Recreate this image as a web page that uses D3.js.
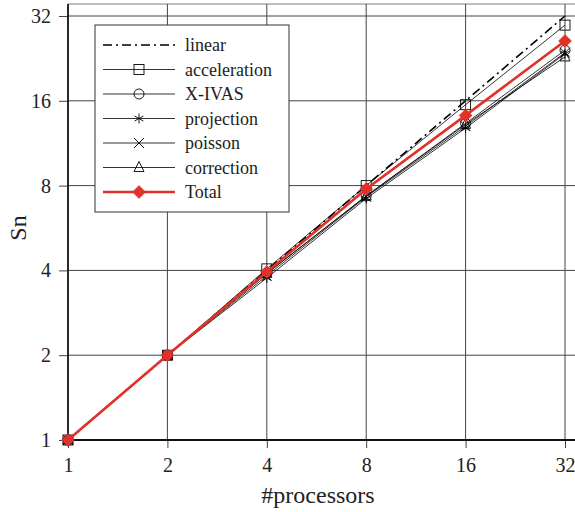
<!DOCTYPE html>
<html>
<head>
<meta charset="utf-8">
<script src="https://cdn.jsdelivr.net/npm/d3@7/dist/d3.min.js"></script>
<style>
  body { margin: 0; background: #fff; }
</style>
</head>
<body>
<svg id="chart" width="575" height="512"></svg>
<script>
(function () {
    const procs = [1, 2, 4, 8, 16, 32];
    const yTicks = [1, 2, 4, 8, 16, 32];

    const linear = [1, 2, 4, 8, 16, 32];
    const acceleration = [1, 2, 4.05, 8.0, 15.5, 29.7];
    const xivas = [1, 2, 3.9, 7.35, 13.3, 24.2];
    const projection = [1, 2, 3.76, 7.2, 12.8, 23.5];
    const poisson = [1, 2, 3.83, 7.3, 13.0, 23.7];
    const correction = [1, 2, 3.9, 7.35, 13.2, 22.9];
    const total = [1, 2, 3.95, 7.78, 14.2, 26.1];

    const FONT = "'Liberation Serif'";

    const series = [
        { name: "linear", values: linear, marker: null, color: "#000", width: 1.6, dash: "9,4,2,4" },
        { name: "acceleration", values: acceleration, marker: "square", color: "#000", width: 0.8 },
        { name: "X-IVAS", values: xivas, marker: "circle", color: "#000", width: 0.8 },
        { name: "projection", values: projection, marker: "star", color: "#000", width: 0.8 },
        { name: "poisson", values: poisson, marker: "cross", color: "#000", width: 0.8 },
        { name: "correction", values: correction, marker: "triangle", color: "#000", width: 0.8 },
        { name: "Total", values: total, marker: "diamond", color: "#e0312a", width: 2.6 }
    ];

    const svg = d3.select("#chart");
    const left = 68, right = 565, top = 16, bottom = 440;

    const x = d3.scaleLog().base(2).domain([1, 32]).range([left, right]);
    const y = d3.scaleLog().base(2).domain([1, 32]).range([bottom, top]);

    // frame (top edge sits a bit above the 32 grid line)
    svg.append("line")
        .attr("x1", left).attr("x2", 575).attr("y1", 4).attr("y2", 4)
        .attr("stroke", "#aaa").attr("stroke-width", 1.5);

    // grid
    const grid = svg.append("g");
    grid.selectAll(".gx").data(procs.slice(1)).enter().append("line")
        .attr("x1", d => x(d)).attr("x2", d => x(d))
        .attr("y1", 4).attr("y2", bottom)
        .attr("stroke", "#444").attr("stroke-width", 1);
    grid.selectAll(".gy").data(yTicks.slice(1)).enter().append("line")
        .attr("x1", left).attr("x2", 575)
        .attr("y1", d => y(d)).attr("y2", d => y(d))
        .attr("stroke", "#444").attr("stroke-width", 1);

    // axes
    const xAxis = d3.axisBottom(x).tickValues(procs).tickFormat(d3.format("d")).tickSize(8).tickPadding(10);
    const yAxis = d3.axisLeft(y).tickValues(yTicks).tickFormat(d3.format("d")).tickSize(9).tickPadding(8);

    const gx = svg.append("g").attr("transform", `translate(0,${bottom})`).call(xAxis);
    gx.select(".domain").remove();
    gx.selectAll("line").attr("stroke", "#444");
    gx.selectAll("text").attr("font-size", 20).attr("fill", "#222").style("font-family", FONT);

    const gy = svg.append("g").attr("transform", `translate(${left},0)`).call(yAxis);
    gy.select(".domain").remove();
    gy.selectAll("line").attr("stroke", "#444");
    gy.selectAll("text").attr("font-size", 20).attr("fill", "#222").style("font-family", FONT);

    svg.append("line")
        .attr("x1", left).attr("x2", left).attr("y1", 4).attr("y2", bottom)
        .attr("stroke", "#111").attr("stroke-width", 1.8);
    svg.append("line")
        .attr("x1", left).attr("x2", 575).attr("y1", bottom).attr("y2", bottom)
        .attr("stroke", "#111").attr("stroke-width", 1.8);

    svg.append("text")
        .attr("x", 318).attr("y", 503)
        .attr("text-anchor", "middle").attr("font-size", 24).attr("fill", "#222")
        .style("font-family", FONT)
        .text("#processors");
    svg.append("text")
        .attr("transform", "translate(26,228) rotate(-90)")
        .attr("text-anchor", "middle").attr("font-size", 24).attr("fill", "#222")
        .style("font-family", FONT)
        .text("Sn");

    function drawMarker(g, type, cx, cy, color) {
        const s = 5;
        if (type === "square") {
            g.append("rect").attr("x", cx - s).attr("y", cy - s).attr("width", 2 * s).attr("height", 2 * s)
                .attr("fill", "none").attr("stroke", color).attr("stroke-width", 0.9);
        } else if (type === "circle") {
            g.append("circle").attr("cx", cx).attr("cy", cy).attr("r", s)
                .attr("fill", "none").attr("stroke", color).attr("stroke-width", 0.9);
        } else if (type === "cross") {
            g.append("path").attr("d", `M${cx - s},${cy - s}L${cx + s},${cy + s}M${cx - s},${cy + s}L${cx + s},${cy - s}`)
                .attr("stroke", color).attr("stroke-width", 0.9);
        } else if (type === "star") {
            const a = s * 0.87;
            g.append("path").attr("d",
                `M${cx},${cy - s}L${cx},${cy + s}M${cx - a},${cy - s / 2}L${cx + a},${cy + s / 2}M${cx - a},${cy + s / 2}L${cx + a},${cy - s / 2}`)
                .attr("stroke", color).attr("stroke-width", 0.9);
        } else if (type === "triangle") {
            g.append("path").attr("d", `M${cx},${cy - s - 1}L${cx + s},${cy + s - 1}L${cx - s},${cy + s - 1}Z`)
                .attr("fill", "none").attr("stroke", color).attr("stroke-width", 0.9);
        } else if (type === "diamond") {
            const d = 6.5;
            g.append("path").attr("d", `M${cx},${cy - d}L${cx + d},${cy}L${cx},${cy + d}L${cx - d},${cy}Z`)
                .attr("fill", color).attr("stroke", color).attr("stroke-width", 0.5);
        }
    }

    const line = d3.line().x((d, i) => x(procs[i])).y(d => y(d));

    series.forEach(s => {
        const g = svg.append("g");
        g.append("path").datum(s.values)
            .attr("d", line)
            .attr("fill", "none")
            .attr("stroke", s.color)
            .attr("stroke-width", s.width)
            .attr("stroke-dasharray", s.dash || null);
        if (s.marker) {
            s.values.forEach((v, i) => drawMarker(g, s.marker, x(procs[i]), y(v), s.color));
        }
    });

    // legend
    const lg = svg.append("g");
    lg.append("rect").attr("x", 95).attr("y", 25).attr("width", 194).attr("height", 187)
        .attr("fill", "#fff").attr("stroke", "#333").attr("stroke-width", 1);
    series.forEach((s, i) => {
        const ly = 45 + i * 24.5;
        lg.append("line").attr("x1", 103).attr("x2", 175).attr("y1", ly).attr("y2", ly)
            .attr("stroke", s.color).attr("stroke-width", s.width)
            .attr("stroke-dasharray", s.dash || null);
        if (s.marker) drawMarker(lg, s.marker, 139, ly, s.color);
        lg.append("text").attr("x", 185).attr("y", ly + 6)
            .attr("font-size", 18).attr("fill", "#222")
            .style("font-family", FONT)
            .text(s.name);
    });
})();
</script>
</body>
</html>
